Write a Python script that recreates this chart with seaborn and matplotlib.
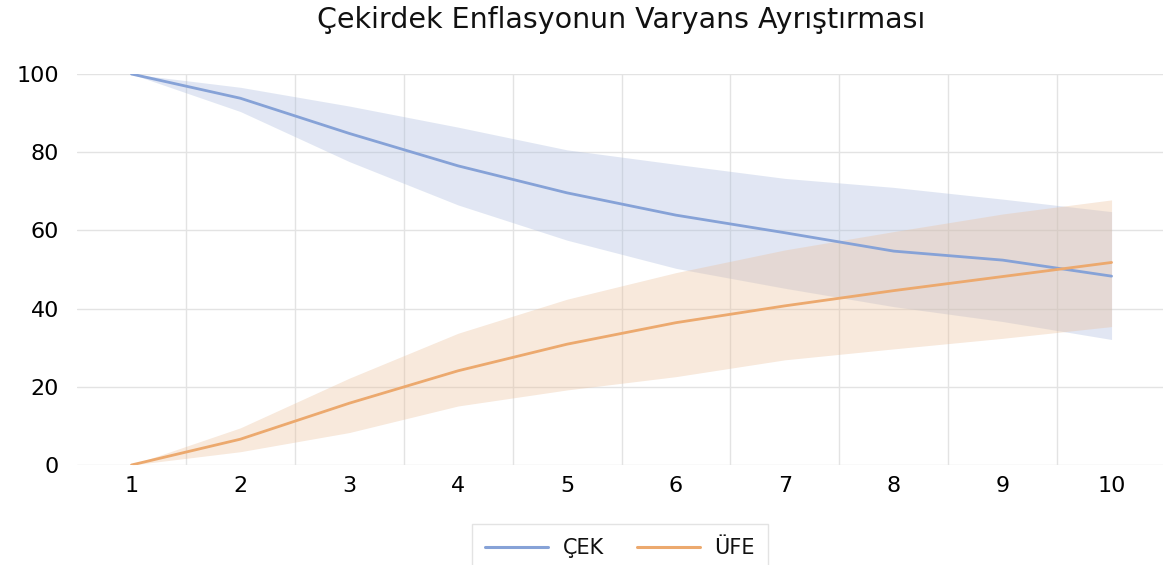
import numpy as np
import pandas as pd
import matplotlib
matplotlib.use("Agg")
import matplotlib.pyplot as plt
from matplotlib.lines import Line2D
import seaborn as sns

# Forecast horizon (periods)
periods = [1, 2, 3, 4, 5, 6, 7, 8, 9, 10]

# Share of core-inflation forecast-error variance explained by each shock (%)
cek_mid = [100, 93.8, 84.8, 76.5, 69.6, 63.9, 59.4, 54.7, 52.4, 48.3]
cek_upper = [100, 96.6, 91.8, 86.4, 80.6, 76.9, 73.3, 71.0, 68.0, 64.8]
cek_lower = [100, 90.4, 77.6, 66.5, 57.5, 50.3, 45.2, 40.5, 36.7, 32.1]

ufe_mid = [0, 6.6, 15.8, 24.1, 30.9, 36.4, 40.7, 44.6, 48.2, 51.8]
ufe_upper = [0, 9.5, 22.2, 33.7, 42.4, 49.2, 55.0, 59.7, 64.2, 67.8]
ufe_lower = [0, 3.4, 8.3, 15.1, 19.2, 22.6, 26.9, 29.7, 32.4, 35.4]

series_names = ["ÇEK", "ÜFE"]
y_ticks = [0, 20, 40, 60, 80, 100]

line_colors = {"ÇEK": "#86a2d7", "ÜFE": "#eca96e"}
band_colors = {"ÇEK": "#a9badd", "ÜFE": "#ebc09b"}

df = pd.DataFrame({
    "period": periods * 2,
    "value": cek_mid + ufe_mid,
    "series": [series_names[0]] * len(periods) + [series_names[1]] * len(periods),
})

sns.set_theme(style="white")
plt.rcParams["font.family"] = ["DejaVu Sans"]

fig = plt.figure(figsize=(11.63, 5.65), dpi=100)
ax = fig.add_axes([77 / 1163, 100 / 565, 1089 / 1163, 391 / 565])

# Confidence bands
ax.fill_between(periods, cek_lower, cek_upper, color=band_colors["ÇEK"],
                alpha=0.35, linewidth=0, zorder=1)
ax.fill_between(periods, ufe_lower, ufe_upper, color=band_colors["ÜFE"],
                alpha=0.35, linewidth=0, zorder=2)

sns.lineplot(data=df, x="period", y="value", hue="series",
             palette=line_colors, linewidth=2.0, legend=False, ax=ax, zorder=3)

ax.set_xlim(0.5, 10.5)
ax.set_ylim(0, 100)
ax.set_xticks(periods)
ax.set_xticklabels([str(p) for p in periods])
ax.set_xticks([p + 0.5 for p in periods[:-1]], minor=True)
ax.set_yticks(y_ticks)
ax.set_yticklabels([str(v) for v in y_ticks])
ax.set_xlabel("")
ax.set_ylabel("")

ax.grid(False)
ax.grid(True, axis="y", which="major", color="#e3e3e3", linewidth=1.0, zorder=0)
ax.grid(True, axis="x", which="minor", color="#e3e3e3", linewidth=1.0, zorder=0)
ax.set_axisbelow(True)
for s in ax.spines.values():
    s.set_visible(False)

ax.tick_params(axis="both", which="both", length=0, labelsize=16, colors="#000000")
ax.tick_params(axis="y", pad=13)
ax.tick_params(axis="x", pad=8)

ax.set_title("Çekirdek Enflasyonun Varyans Ayrıştırması", fontsize=20.5,
             family=["DejaVu Sans"], color="#111111", pad=33)

handles = [Line2D([0], [0], color=line_colors[n], linewidth=2.2) for n in series_names]
leg = fig.legend(handles, series_names, loc="center",
                 bbox_to_anchor=(620 / 1163, 1 - 548 / 565), ncol=2,
                 frameon=True, fancybox=False, fontsize=15, handlelength=3.0,
                 columnspacing=1.6, handletextpad=0.7, borderpad=0.65,
                 borderaxespad=0)
for t in leg.get_texts():
    t.set_color("#111111")
leg.get_frame().set_edgecolor("#dcdcdc")
leg.get_frame().set_linewidth(1.0)

fig.savefig("out.png", dpi=100)
